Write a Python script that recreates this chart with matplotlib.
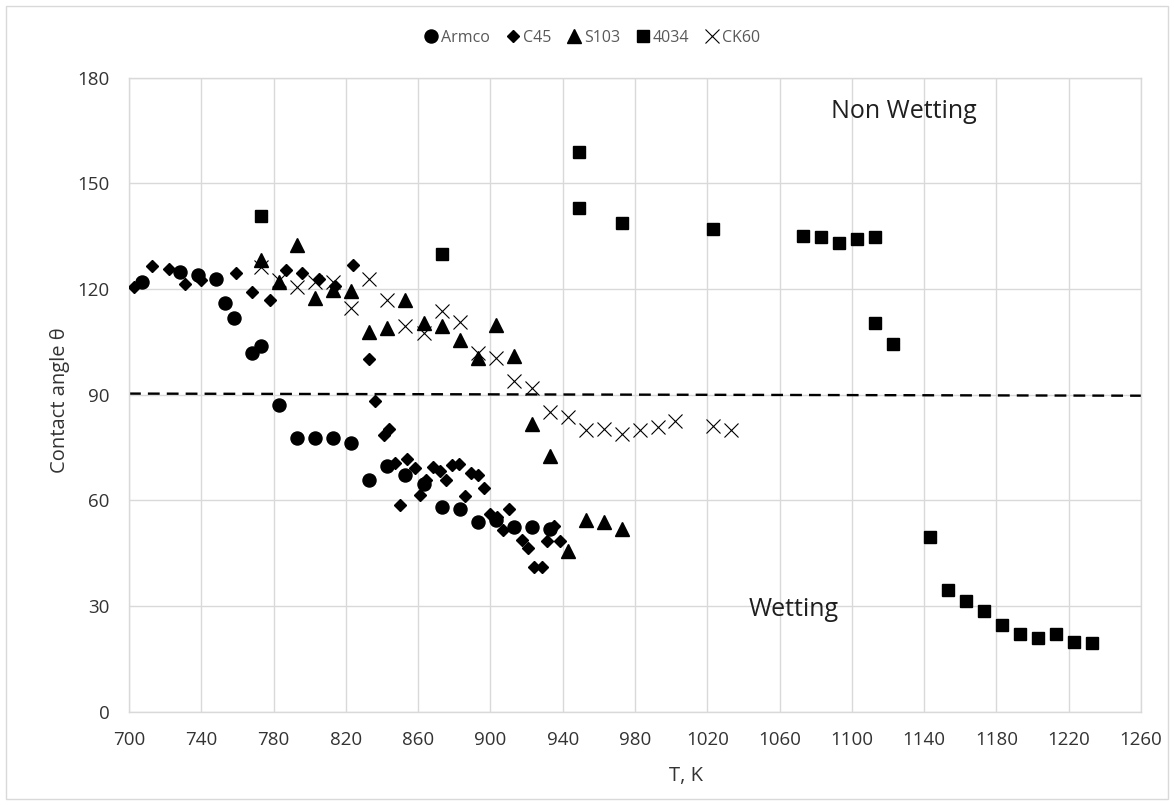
import matplotlib
matplotlib.use("Agg")
import matplotlib.pyplot as plt
from matplotlib.patches import Rectangle

plt.rcParams['font.family'] = ['Open Sans', 'DejaVu Sans']

# ---------------- data ----------------
armco_T = [707, 728, 738, 748, 753, 758, 768, 773, 783, 793, 803, 813, 823, 833,
           843, 853, 863, 873, 883, 893, 903, 913, 923, 933]
armco_theta = [122.1, 124.7, 124.0, 122.7, 115.9, 111.9, 101.9, 103.9, 87.2, 77.6,
               77.6, 77.8, 76.4, 65.8, 69.7, 67.2, 64.5, 58.2, 57.6, 53.8, 54.5,
               52.3, 52.4, 51.9]

c45_T = [703, 713, 722, 731, 740, 759, 768, 778, 787, 796, 805, 814, 824, 833,
         836, 841, 844, 847, 850, 854, 858, 861, 864.5, 868, 872, 875.4, 878.5,
         882.6, 886, 889, 893, 896.4, 900, 903.5, 907, 910.4, 917.5, 921, 924,
         928.3, 931.4, 935, 938.5]
c45_theta = [120.6, 126.5, 125.8, 121.3, 122.5, 124.6, 119.1, 116.9, 125.4, 124.4,
             122.7, 120.8, 126.8, 100.0, 88.2, 78.5, 80.2, 70.6, 58.7, 71.6, 69.1,
             61.5, 65.8, 69.5, 68.2, 65.8, 70.1, 70.2, 61.2, 67.8, 67.3, 63.4,
             56.1, 55.2, 51.6, 57.5, 48.8, 46.6, 41.2, 41.2, 48.4, 52.7, 48.5]

s103_T = [773, 783, 793, 803, 813, 823, 833, 843, 853, 863, 873, 883, 893, 903,
          913, 923, 933, 943, 953, 963, 973]
s103_theta = [128.3, 122.0, 132.5, 117.3, 119.7, 119.5, 107.9, 108.8, 116.9, 110.2,
              109.5, 105.5, 100.3, 109.8, 101.0, 81.7, 72.6, 45.7, 54.4, 53.9, 51.8]

s4034_T = [773, 873, 949, 949, 973, 1023, 1073, 1083, 1093, 1103, 1113, 1113, 1123,
           1143, 1153, 1163, 1173, 1183, 1193, 1203, 1213, 1223, 1233]
s4034_theta = [140.7, 130.0, 158.9, 143.0, 138.8, 137.0, 135.0, 134.8, 133.0, 134.3,
               134.8, 110.4, 104.5, 49.7, 34.5, 31.5, 28.7, 24.6, 22.0, 21.0, 22.0,
               19.9, 19.6]

ck60_T = [773, 783, 793, 803, 813, 823, 833, 843, 853, 863, 873, 883, 893, 903,
          913, 923, 933, 943, 953, 963, 973, 983, 993, 1002, 1023, 1033]
ck60_theta = [126.3, 122.5, 120.6, 122.1, 122.1, 114.5, 122.7, 116.9, 109.5, 107.4,
              113.8, 110.7, 101.7, 100.3, 94.0, 91.8, 85.2, 83.6, 80.0, 80.2, 78.8,
              80.0, 80.9, 82.6, 81.1, 80.0]

boundary_T = [700, 1260]
boundary_theta = [90.3, 89.7]

x_ticks = list(range(700, 1261, 40))
y_ticks = list(range(0, 181, 30))

# ---------------- figure ----------------
fig = plt.figure(figsize=(11.74, 8.05), dpi=100)
fig.patches.append(Rectangle((6 / 1174, 6 / 805), 1162 / 1174, 793 / 805,
                             transform=fig.transFigure, fill=False,
                             edgecolor='#d9d9d9', linewidth=1.0))

ax = fig.add_axes([129 / 1174, 1 - 711.7 / 805, (1141 - 129) / 1174,
                   (711.7 - 77.6) / 805])

ax.plot(boundary_T, boundary_theta, color='black', linewidth=1.7,
        linestyle=(0, (5.0, 3.0)), zorder=2)

ms = dict(linestyle='none', color='black', zorder=3)
ax.plot(armco_T, armco_theta, marker='o', markersize=9.4, label='Armco', **ms)
ax.plot(c45_T, c45_theta, marker='D', markersize=6.5, label='C45', **ms)
ax.plot(s103_T, s103_theta, marker='^', markersize=9.5, label='S103', **ms)
ax.plot(s4034_T, s4034_theta, marker='s', markersize=9.3, label='4034', **ms)
ax.plot(ck60_T, ck60_theta, marker='x', markersize=10.5, markeredgewidth=0.8,
        label='CK60', **ms)

ax.set_xlim(700, 1260)
ax.set_ylim(0, 180)
ax.set_xticks(x_ticks)
ax.set_yticks(y_ticks)
ax.grid(True, color='#d9d9d9', linewidth=1.0)
ax.set_axisbelow(True)
for s in ax.spines.values():
    s.set_color('#d9d9d9')
    s.set_linewidth(1.0)
ax.tick_params(axis='both', length=0, labelsize=13.5, labelcolor='#333333')
ax.tick_params(axis='x', pad=14)
ax.tick_params(axis='y', pad=14)

ax.text(1129, 170.3, 'Non Wetting', fontsize=18, color='#1f1f1f',
        ha='center', va='center')
ax.text(1067.6, 29.1, 'Wetting', fontsize=18, color='#1f1f1f',
        ha='center', va='center')

fig.text(686 / 1174, 1 - 776 / 805, 'T, K', fontsize=14.5, color='#333333',
         ha='center', va='center')
fig.text(60 / 1174, 1 - 400 / 805, 'Contact angle θ', fontsize=14.5,
         color='#333333', ha='center', va='center', rotation=90)

handles, labels = ax.get_legend_handles_labels()
leg = fig.legend(handles, labels, loc='center', ncol=5,
                 bbox_to_anchor=(592 / 1174, 1 - 38 / 805), frameon=False,
                 fontsize=11.5, handlelength=0.9, handletextpad=0.15,
                 columnspacing=1.0, markerscale=1.0)
for t in leg.get_texts():
    t.set_color('#595959')

fig.savefig('out.png', dpi=100)
